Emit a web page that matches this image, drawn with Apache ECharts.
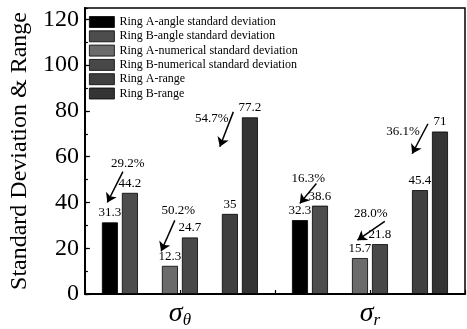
<!DOCTYPE html>
<html><head><meta charset="utf-8">
<script src="https://cdn.jsdelivr.net/npm/echarts@6/dist/echarts.min.js"></script>
<style>html,body{margin:0;padding:0;background:#fff}#c{width:467px;height:329px}</style>
</head><body><div id="c"></div>
<script>
const categories = ['σθ', 'σr'];
const seriesNames = ['Ring A-angle standard deviation','Ring B-angle standard deviation','Ring A-numerical standard deviation','Ring B-numerical standard deviation','Ring A-range','Ring B-range'];
const ringAAngle = [31.3, 32.3];
const ringBAngle = [44.2, 38.6];
const ringANum = [12.3, 15.7];
const ringBNum = [24.7, 21.8];
const ringARange = [35, 45.4];
const ringBRange = [77.2, 71];
const yTicks = [0, 20, 40, 60, 80, 100, 120];
// percentage annotations (x in category units 0..2)
const pctLabels = ['29.2%', '50.2%', '54.7%', '16.3%', '28.0%', '36.1%'];
const pctTextPos = [[0.226, 57.0], [0.491, 36.5], [0.668, 76.5], [1.175, 50.4], [1.504, 35.2], [1.674, 70.9]];
const pctArrowFrom = [[0.200, 53.5], [0.473, 32.2], [0.781, 79.6], [1.218, 48.3], [1.578, 31.7], [1.805, 74.4]];
const pctArrowTo = [[0.118, 40.0], [0.401, 18.7], [0.710, 64.4], [1.131, 39.6], [1.434, 23.5], [1.722, 61.3]];

const FONT = 'Liberation Serif';
const colors = ['#000000', '#4d4d4d', '#6b6b6b', '#484848', '#404040', '#343434'];
const values = [ringAAngle, ringBAngle, ringANum, ringBNum, ringARange, ringBRange];
const slots = [0, 1, null, 2, 3, null, 4, 5];

const barSeries = slots.map((k, i) => {
  if (k === null) {
    return { type: 'bar', name: 'gap' + i, data: ['-', '-'], barWidth: 16, barGap: '25%', xAxisIndex: 0, yAxisIndex: 0, silent: true };
  }
  return {
    type: 'bar', name: seriesNames[k], data: values[k], barWidth: 16, barGap: '25%',
    xAxisIndex: 0, yAxisIndex: 0,
    itemStyle: { color: colors[k], borderColor: '#000', borderWidth: 0.8 },
    label: { show: true, position: 'top', distance: 3, color: '#000', fontFamily: FONT, fontSize: 13 }
  };
});

const option = {
  animation: false,
  backgroundColor: '#fff',
  grid: { left: 76, right: 2, top: 8, bottom: 33, show: true, borderColor: '#000', borderWidth: 1.5, backgroundColor: 'transparent' },
  legend: {
    data: seriesNames, orient: 'vertical', left: 89, top: 16, padding: 0, icon: 'rect',
    itemWidth: 25, itemHeight: 11, itemGap: 2.3, itemStyle: { borderColor: '#000', borderWidth: 0.8 },
    textStyle: { fontFamily: FONT, fontSize: 12, color: '#000', lineHeight: 11 }
  },
  xAxis: [
    { type: 'category', data: categories, position: 'bottom',
      axisLine: { show: true, lineStyle: { color: '#000', width: 2 } },
      axisTick: { show: false },
      axisLabel: { margin: 4, formatter: v => '{s|' + v.charAt(0) + '}{t|' + v.slice(1) + '}',
        rich: { s: { fontFamily: FONT, fontStyle: 'italic', fontSize: 28, color: '#000' },
                t: { fontFamily: FONT, fontStyle: 'italic', fontSize: 17, color: '#000', padding: [14, 0, 0, 0] } } } },
    { type: 'value', min: 0, max: 2, interval: 0.5, position: 'bottom', show: true,
      axisLine: { show: false }, axisLabel: { show: false }, splitLine: { show: false },
      axisTick: { show: true, inside: true, length: 4, lineStyle: { color: '#000', width: 1.2 } } }
  ],
  yAxis: [
    { type: 'value', min: 0, max: 125, interval: 20, position: 'left',
      name: 'Standard Deviation & Range', nameLocation: 'middle', nameGap: 46,
      nameTextStyle: { fontFamily: FONT, fontSize: 24, color: '#000' },
      axisLine: { show: true, lineStyle: { color: '#000', width: 2 } },
      axisTick: { show: true, inside: true, length: 5, lineStyle: { color: '#000', width: 1.2 } },
      axisLabel: { showMaxLabel: false, margin: 6, fontFamily: FONT, fontSize: 24, color: '#000',
        formatter: v => yTicks.indexOf(v) >= 0 ? String(v) : '' },
      splitLine: { show: false } },
    { type: 'value', min: 0, max: 125, interval: 10, position: 'left',
      axisLine: { show: false }, axisLabel: { show: false }, splitLine: { show: false },
      axisTick: { show: true, inside: true, length: 3, lineStyle: { color: '#000', width: 1.2 } } }
  ],
  series: barSeries.concat([
    { type: 'lines', coordinateSystem: 'cartesian2d', xAxisIndex: 1, yAxisIndex: 0,
      symbol: ['none', 'arrow'], symbolSize: 9,
      lineStyle: { color: '#000', width: 1.5, opacity: 1 },
      data: pctArrowFrom.map((f, i) => ({ coords: [f, pctArrowTo[i]] })) },
    { type: 'scatter', xAxisIndex: 1, yAxisIndex: 0, symbolSize: 0, silent: true,
      itemStyle: { opacity: 1 },
      data: pctTextPos.map((p, i) => ({ value: p, name: pctLabels[i] })),
      label: { show: true, position: 'inside', formatter: p => p.name, color: '#000', opacity: 1, fontFamily: FONT, fontSize: 13 } }
  ])
};
const chart = echarts.init(document.getElementById('c'), null, { renderer: 'canvas' });
chart.setOption(option);
</script></body></html>
